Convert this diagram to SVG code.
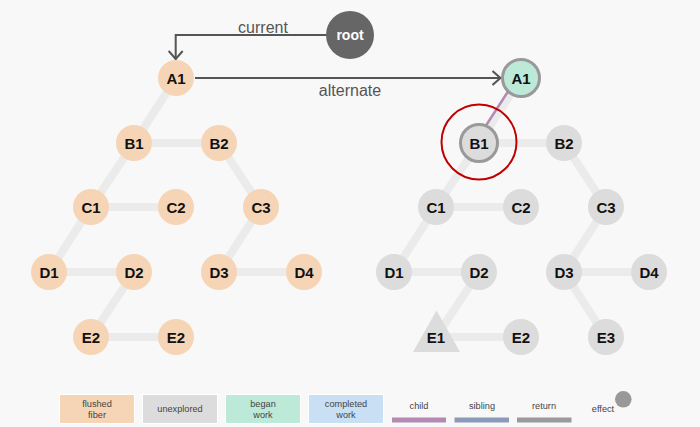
<svg xmlns="http://www.w3.org/2000/svg" width="700" height="427" viewBox="0 0 700 427">
<defs>
<marker id="chev" markerUnits="userSpaceOnUse" viewBox="0 0 10 16" refX="9.5" refY="8" markerWidth="10" markerHeight="16" orient="auto">
<path d="M1,1 L9,8 L1,15" fill="none" stroke="#555" stroke-width="2"/>
</marker>
<style>
text{font-family:"Liberation Sans",Arial,sans-serif}
.edge{stroke:#ebebeb;stroke-width:8;fill:none}
.ptr{stroke:#555;stroke-width:2;fill:none}
.ptrlbl{font-size:16px;fill:#555;text-anchor:middle}
.flushed{fill:#f5d5b6}
.unexp{fill:#dcdcdc}
.began{fill:#bde9d9}
.done{fill:#c9dff4}
.nl{font-size:15px;font-weight:bold;fill:#111;text-anchor:middle}
.lg{font-size:9.2px;fill:#444;text-anchor:middle}
.sel{stroke:#999;stroke-width:3}
</style>
</defs>
<rect width="700" height="427" fill="#f8f8f8"/>

<g id="connectors">
<!-- left tree edges -->
<line class="edge" x1="176" y1="78" x2="134" y2="143"/>
<line class="edge" x1="134" y1="143" x2="219" y2="143"/>
<line class="edge" x1="134" y1="143" x2="91" y2="207"/>
<line class="edge" x1="91" y1="207" x2="176" y2="207"/>
<line class="edge" x1="219" y1="143" x2="261" y2="207"/>
<line class="edge" x1="91" y1="207" x2="49" y2="272"/>
<line class="edge" x1="49" y1="272" x2="134" y2="272"/>
<line class="edge" x1="261" y1="207" x2="219" y2="272"/>
<line class="edge" x1="219" y1="272" x2="304" y2="272"/>
<line class="edge" x1="134" y1="272" x2="91" y2="337"/>
<line class="edge" x1="91" y1="337" x2="176" y2="337"/>
<!-- right tree edges -->
<line class="edge" x1="521" y1="78" x2="479" y2="143"/>
<line class="edge" x1="479" y1="143" x2="564" y2="143"/>
<line class="edge" x1="479" y1="143" x2="436" y2="207"/>
<line class="edge" x1="436" y1="207" x2="521" y2="207"/>
<line class="edge" x1="564" y1="143" x2="606" y2="207"/>
<line class="edge" x1="436" y1="207" x2="394" y2="272"/>
<line class="edge" x1="394" y1="272" x2="479" y2="272"/>
<line class="edge" x1="606" y1="207" x2="564" y2="272"/>
<line class="edge" x1="564" y1="272" x2="649" y2="272"/>
<line class="edge" x1="479" y1="272" x2="436" y2="337"/>
<line class="edge" x1="436" y1="337" x2="521" y2="337"/>
<line class="edge" x1="564" y1="272" x2="606" y2="337"/>
<!-- child pointer A1 -> B1 -->
<line x1="518" y1="76" x2="476" y2="141" stroke="#b48ab5" stroke-width="2.5"/>
<!-- current / alternate -->
<path class="ptr" d="M330,35 H175.7 V59.5" marker-end="url(#chev)"/>
<text class="ptrlbl" x="263" y="32.5">current</text>
<path class="ptr" d="M195,78 H501" marker-end="url(#chev)"/>
<text class="ptrlbl" x="350" y="96">alternate</text>
</g>

<g id="root">
<circle cx="350" cy="35" r="24" fill="#666"/>
<text x="350" y="40" font-size="14" font-weight="bold" fill="#fff" text-anchor="middle">root</text>
</g>

<!-- left tree (current) -->
<g id="L-A1"><circle class="flushed" cx="176" cy="78" r="18"/><text class="nl" x="176" y="83.5">A1</text></g>
<g id="L-B1"><circle class="flushed" cx="134" cy="143" r="18"/><text class="nl" x="134" y="148.5">B1</text></g>
<g id="L-B2"><circle class="flushed" cx="219" cy="143" r="18"/><text class="nl" x="219" y="148.5">B2</text></g>
<g id="L-C1"><circle class="flushed" cx="91" cy="207" r="18"/><text class="nl" x="91" y="212.5">C1</text></g>
<g id="L-C2"><circle class="flushed" cx="176" cy="207" r="18"/><text class="nl" x="176" y="212.5">C2</text></g>
<g id="L-C3"><circle class="flushed" cx="261" cy="207" r="18"/><text class="nl" x="261" y="212.5">C3</text></g>
<g id="L-D1"><circle class="flushed" cx="49" cy="272" r="18"/><text class="nl" x="49" y="277.5">D1</text></g>
<g id="L-D2"><circle class="flushed" cx="134" cy="272" r="18"/><text class="nl" x="134" y="277.5">D2</text></g>
<g id="L-D3"><circle class="flushed" cx="219" cy="272" r="18"/><text class="nl" x="219" y="277.5">D3</text></g>
<g id="L-D4"><circle class="flushed" cx="304" cy="272" r="18"/><text class="nl" x="304" y="277.5">D4</text></g>
<g id="L-E2a"><circle class="flushed" cx="91" cy="337" r="18"/><text class="nl" x="91" y="342.5">E2</text></g>
<g id="L-E2b"><circle class="flushed" cx="176" cy="337" r="18"/><text class="nl" x="176" y="342.5">E2</text></g>

<!-- right tree (work in progress) -->
<g id="R-A1"><circle class="began sel" cx="521" cy="78" r="18.5"/><text class="nl" x="521" y="83.5">A1</text></g>
<g id="R-B1"><circle class="unexp sel" cx="479" cy="143" r="18.5"/><text class="nl" x="479" y="148.5">B1</text>
<circle cx="479" cy="142" r="37.5" fill="none" stroke="#c00000" stroke-width="2"/></g>
<g id="R-B2"><circle class="unexp" cx="564" cy="143" r="18"/><text class="nl" x="564" y="148.5">B2</text></g>
<g id="R-C1"><circle class="unexp" cx="436" cy="207" r="18"/><text class="nl" x="436" y="212.5">C1</text></g>
<g id="R-C2"><circle class="unexp" cx="521" cy="207" r="18"/><text class="nl" x="521" y="212.5">C2</text></g>
<g id="R-C3"><circle class="unexp" cx="606" cy="207" r="18"/><text class="nl" x="606" y="212.5">C3</text></g>
<g id="R-D1"><circle class="unexp" cx="394" cy="272" r="18"/><text class="nl" x="394" y="277.5">D1</text></g>
<g id="R-D2"><circle class="unexp" cx="479" cy="272" r="18"/><text class="nl" x="479" y="277.5">D2</text></g>
<g id="R-D3"><circle class="unexp" cx="564" cy="272" r="18"/><text class="nl" x="564" y="277.5">D3</text></g>
<g id="R-D4"><circle class="unexp" cx="649" cy="272" r="18"/><text class="nl" x="649" y="277.5">D4</text></g>
<g id="R-E1"><polygon class="unexp" points="436.5,310.5 460,352 413,352"/><text class="nl" x="436" y="342.5">E1</text></g>
<g id="R-E2"><circle class="unexp" cx="521" cy="337" r="18"/><text class="nl" x="521" y="342.5">E2</text></g>
<g id="R-E3"><circle class="unexp" cx="606" cy="337" r="18"/><text class="nl" x="606" y="342.5">E3</text></g>

<!-- legend -->
<g id="legend-flushed"><rect class="flushed" x="59.5" y="394.5" width="75" height="29" stroke="#fff" stroke-width="1"/><text class="lg" x="97" y="406.5">flushed</text><text class="lg" x="97" y="417.5">fiber</text></g>
<g id="legend-unexplored"><rect class="unexp" x="142.5" y="394.5" width="75" height="29" stroke="#fff" stroke-width="1"/><text class="lg" x="180" y="412.3">unexplored</text></g>
<g id="legend-began"><rect class="began" x="225.5" y="394.5" width="75" height="29" stroke="#fff" stroke-width="1"/><text class="lg" x="263" y="406.5">began</text><text class="lg" x="263" y="417.5">work</text></g>
<g id="legend-completed"><rect class="done" x="308.5" y="394.5" width="75" height="29" stroke="#fff" stroke-width="1"/><text class="lg" x="346" y="406.5">completed</text><text class="lg" x="346" y="417.5">work</text></g>
<g id="legend-child"><rect x="392" y="417.5" width="54" height="5" fill="#b48ab5"/><text class="lg" x="419" y="408.5">child</text></g>
<g id="legend-sibling"><rect x="454.5" y="417.5" width="54.5" height="5" fill="#8b9ab9"/><text class="lg" x="482" y="408.5">sibling</text></g>
<g id="legend-return"><rect x="517" y="417.5" width="54.5" height="5" fill="#9a9a9a"/><text class="lg" x="544" y="408.5">return</text></g>
<g id="legend-effect"><circle cx="623.3" cy="399.3" r="8.3" fill="#999"/><text class="lg" x="603" y="411.5">effect</text></g>
</svg>
